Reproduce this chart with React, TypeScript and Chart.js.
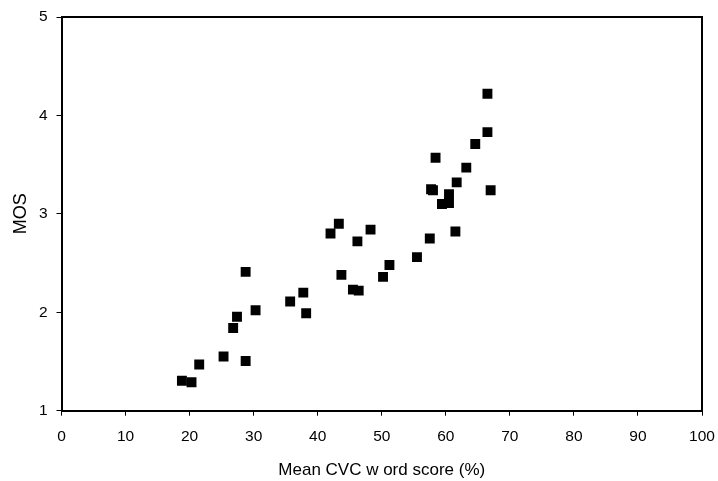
import React, { useEffect, useRef } from "react";
import { Chart, registerables } from "chart.js";

Chart.register(...registerables);

const wordScores: number[] = [
  18.8, 20.3, 21.5, 25.3, 26.8, 27.4, 28.75, 28.75, 30.3, 35.7, 37.75, 38.2,
  42.0, 43.3, 43.7, 45.5, 46.4, 46.2, 48.25, 50.2, 51.2, 55.5, 57.5, 57.7,
  58.0, 58.4, 59.4, 60.5, 60.5, 61.5, 61.7, 63.2, 64.6, 66.5, 66.5, 67.0,
];
const mosValues: number[] = [
  1.305, 1.289, 1.47, 1.55, 1.84, 1.955, 2.41, 1.505, 2.02, 2.11, 2.2, 1.99,
  2.8, 2.9, 2.38, 2.23, 2.22, 2.72, 2.84, 2.36, 2.48, 2.56, 2.75, 3.25,
  3.24, 3.57, 3.1, 3.2, 3.11, 2.82, 3.32, 3.47, 3.71, 4.22, 3.83, 3.24,
];
const xTitle = "Mean CVC w ord score (%)";
const yTitle = "MOS";

const FONT = "'Liberation Sans', Arial, sans-serif";

const boxPlugin = {
  id: "plotBox",
  afterDraw(chart: any) {
    const { ctx, chartArea } = chart;
    ctx.save();
    ctx.strokeStyle = "#000";
    ctx.lineWidth = 2;
    ctx.beginPath();
    ctx.moveTo(chartArea.left, chartArea.top);
    ctx.lineTo(chartArea.right, chartArea.top);
    ctx.lineTo(chartArea.right, chartArea.bottom);
    ctx.stroke();
    ctx.restore();
  },
};

export default function App() {
  const canvasRef = useRef<HTMLCanvasElement | null>(null);

  useEffect(() => {
    document.body.style.margin = "0";
    const canvas = canvasRef.current;
    if (!canvas) return;
    const points = wordScores.map((x, i) => ({ x, y: mosValues[i] }));
    const chart = new Chart(canvas, {
      type: "scatter",
      data: {
        datasets: [
          {
            data: points,
            pointStyle: "rect",
            pointRadius: 7,
            pointHoverRadius: 7,
            backgroundColor: "#000",
            borderColor: "#000",
            borderWidth: 0,
          },
        ],
      },
      options: {
        responsive: false,
        animation: false,
        devicePixelRatio: 1,
        layout: { padding: { top: 17, right: 16, left: 0, bottom: 0 } },
        plugins: {
          legend: { display: false },
          tooltip: { enabled: false },
        },
        scales: {
          x: {
            type: "linear",
            min: 0,
            max: 100,
            afterFit: (s: any) => {
              s.height = 70.3;
              s.paddingLeft = 0;
              s.paddingRight = 0;
            },
            ticks: {
              stepSize: 10,
              color: "#000",
              padding: 12,
              font: { family: FONT, size: 15.5 },
            },
            grid: {
              drawOnChartArea: false,
              drawTicks: true,
              tickLength: 5,
              color: "#000",
            },
            border: { display: true, color: "#000", width: 2 },
            title: {
              display: true,
              text: xTitle,
              color: "#000",
              font: { family: FONT, size: 17 },
              padding: { top: 0, bottom: 0 },
            },
          },
          y: {
            type: "linear",
            min: 1,
            max: 5,
            afterFit: (s: any) => {
              s.width = 61.5;
              s.paddingTop = 0;
              s.paddingBottom = 0;
            },
            ticks: {
              stepSize: 1,
              color: "#000",
              padding: 9,
              font: { family: FONT, size: 15.5 },
            },
            grid: {
              drawOnChartArea: false,
              drawTicks: true,
              tickLength: 5,
              color: "#000",
            },
            border: { display: true, color: "#000", width: 2 },
            title: {
              display: true,
              text: yTitle,
              color: "#000",
              font: { family: FONT, size: 18 },
              padding: { top: 10, bottom: 0 },
            },
          },
        },
      },
      plugins: [boxPlugin],
    });
    return () => chart.destroy();
  }, []);

  return (
    <div style={{ width: 718, height: 481, background: "#fff" }}>
      <canvas ref={canvasRef} width={718} height={481} />
    </div>
  );
}
